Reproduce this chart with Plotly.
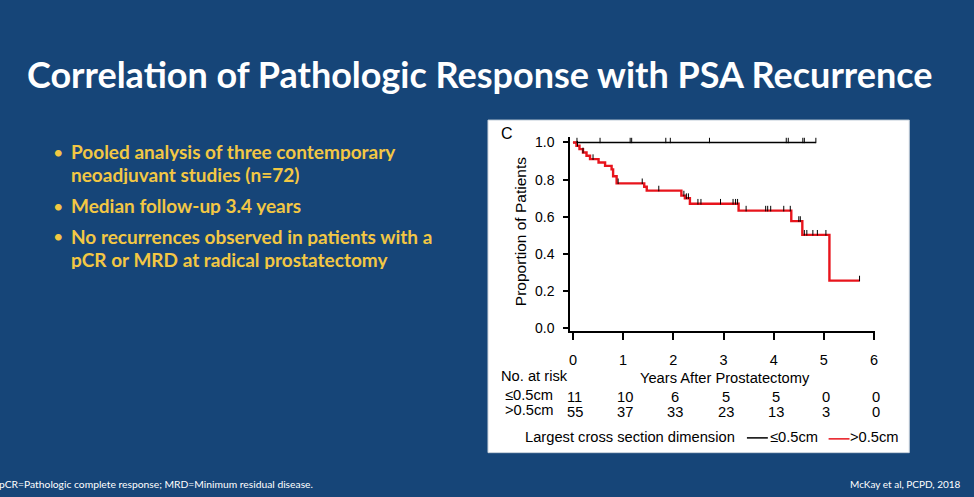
import numpy as np
import plotly.graph_objects as go

# ---------------- data ----------------
title_text = "Correlation of Pathologic Response with PSA Recurrence"
bullets = [
    ["Pooled analysis of three contemporary", "neoadjuvant studies (n=72)"],
    ["Median follow-up 3.4 years"],
    ["No recurrences observed in patients with a", "pCR or MRD at radical prostatectomy"],
]
footnote_left = "pCR=Pathologic complete response; MRD=Minimum residual disease."
footnote_right = "McKay et al, PCPD, 2018"

# >0.5cm group (red): event times and survival after each event
red_event_times = [0.07, 0.13, 0.20, 0.27, 0.34, 0.51, 0.64, 0.77, 0.80, 0.87,
                   1.42, 1.47, 2.16, 2.23, 2.33, 3.30, 4.35, 4.57, 5.11]
red_surv = [0.982, 0.964, 0.946, 0.928, 0.910, 0.892, 0.874, 0.855, 0.818, 0.780,
            0.762, 0.741, 0.714, 0.700, 0.670, 0.633, 0.577, 0.503, 0.257]
red_end = 5.71
red_censor = [0.09, 0.20, 0.40, 0.90, 1.38, 1.71, 2.21, 2.26, 2.30, 2.49, 2.55,
              2.94, 3.19, 3.24, 3.28, 3.45, 3.84, 3.88, 3.94, 4.20, 4.33, 4.50,
              4.53, 4.61, 4.66, 4.78, 4.87, 5.04, 5.71]

# <=0.5cm group (black): no events
black_end = 4.84
black_censor = [0.08, 0.54, 1.14, 1.17, 1.85, 1.94, 2.72, 4.25, 4.29, 4.58, 4.61, 4.84]

years = [0, 1, 2, 3, 4, 5, 6]
risk_small = [11, 10, 6, 5, 5, 0, 0]
risk_large = [55, 37, 33, 23, 13, 3, 0]
y_ticks = [0.0, 0.2, 0.4, 0.6, 0.8, 1.0]

# ---------------- styles ----------------
W, H = 974, 497
BG = "#164578"
YELLOW = "#F2C744"
RED = "#E8141C"
CHART_FONT = "Liberation Sans, Arial, sans-serif"
SLIDE_FONT = "Lato, Open Sans, sans-serif"


def px(x):
    return x / W


def py(y):
    return 1 - y / H


def surv_at(t, times, surv):
    idx = np.searchsorted(np.array(times), t, side="right")
    return 1.0 if idx == 0 else surv[idx - 1]


fig = go.Figure()

# black curve
fig.add_trace(go.Scatter(x=[0, black_end], y=[1.0, 1.0], mode="lines",
                         line=dict(color="black", width=1.5, shape="hv"),
                         hoverinfo="skip", showlegend=False))
# red curve
rx = [0] + red_event_times + [red_end]
ry = [1.0] + red_surv + [red_surv[-1]]
fig.add_trace(go.Scatter(x=rx, y=ry, mode="lines",
                         line=dict(color=RED, width=2.4, shape="hv"),
                         hoverinfo="skip", showlegend=False))
# censor marks
tick_off = 0.011
fig.add_trace(go.Scatter(x=black_censor, y=[1.0 + tick_off] * len(black_censor),
                         mode="markers",
                         marker=dict(symbol="line-ns", size=4,
                                     line=dict(color="black", width=1)),
                         hoverinfo="skip", showlegend=False))
fig.add_trace(go.Scatter(x=red_censor,
                         y=[surv_at(t, red_event_times, red_surv) + tick_off for t in red_censor],
                         mode="markers",
                         marker=dict(symbol="line-ns", size=4,
                                     line=dict(color="black", width=1)),
                         hoverinfo="skip", showlegend=False))

fig.update_layout(
    width=W, height=H,
    margin=dict(l=0, r=0, t=0, b=0),
    paper_bgcolor=BG,
    plot_bgcolor="white",
    showlegend=False,
    xaxis=dict(domain=[px(571.7), px(878)], range=[-0.052, 6.026],
               tickvals=years, ticks="outside", ticklen=7, tickwidth=2,
               tickcolor="black", showline=True, linecolor="black", linewidth=2,
               showgrid=False, zeroline=False, ticklabelstandoff=8,
               tickfont=dict(family=CHART_FONT, size=14.5, color="black")),
    yaxis=dict(domain=[py(333.3), py(136.7)], range=[-0.0138, 1.0265],
               tickvals=y_ticks, tickformat=".1f", ticks="outside", ticklen=5,
               tickwidth=1.5, tickcolor="black", showline=True, linecolor="black",
               linewidth=2, showgrid=False, zeroline=False, ticklabelstandoff=6,
               tickfont=dict(family=CHART_FONT, size=14, color="black")),
)

# white panel
fig.add_shape(type="rect", xref="paper", yref="paper",
              x0=px(489), x1=px(912), y0=py(457), y1=py(119),
              fillcolor="white", line=dict(color="#c9d2dc", width=1), layer="below")

ann = []
ann.append(dict(text=f"<b>{title_text}</b>", x=px(481), y=py(72), xref="paper", yref="paper",
                xanchor="center", yanchor="middle", showarrow=False,
                font=dict(family=SLIDE_FONT, size=36, color="white")))

line_y = [[151, 174], [206], [237, 261]]
for lines, ys in zip(bullets, line_y):
    ann.append(dict(text="•", x=px(51), y=py(ys[0]), xref="paper", yref="paper",
                    xanchor="left", yanchor="middle", showarrow=False,
                    height=18, borderpad=0,
                    font=dict(family=SLIDE_FONT, size=18, color=YELLOW)))
    for txt, yy in zip(lines, ys):
        ann.append(dict(text=f"<b>{txt}</b>", x=px(69), y=py(yy), xref="paper", yref="paper",
                        xanchor="left", yanchor="middle", showarrow=False,
                        height=19, borderpad=0, valign="middle",
                        font=dict(family=SLIDE_FONT, size=19, color=YELLOW)))

ann.append(dict(text=footnote_left, x=px(-4), y=py(489), xref="paper", yref="paper",
                xanchor="left", yanchor="middle", showarrow=False,
                font=dict(family=SLIDE_FONT, size=10.3, color="white")))
ann.append(dict(text=footnote_right, x=px(966), y=py(489), xref="paper", yref="paper",
                xanchor="right", yanchor="middle", showarrow=False,
                font=dict(family=SLIDE_FONT, size=10, color="white")))

cf = dict(family=CHART_FONT, size=14.7, color="black")
ann.append(dict(text="C", x=px(500), y=py(133), xref="paper", yref="paper",
                xanchor="left", yanchor="middle", showarrow=False,
                font=dict(family=CHART_FONT, size=16, color="black")))
ann.append(dict(text="Proportion of Patients", x=px(521), y=py(232), xref="paper", yref="paper",
                xanchor="center", yanchor="middle", showarrow=False, textangle=-90,
                font=dict(family=CHART_FONT, size=15.5, color="black")))
ann.append(dict(text="Years After Prostatectomy", x=px(727), y=py(381), xref="paper", yref="paper",
                xanchor="center", yanchor="middle", showarrow=False, font=cf))
ann.append(dict(text="No. at risk", x=px(500), y=py(379), xref="paper", yref="paper",
                xanchor="left", yanchor="middle", showarrow=False, font=cf))
ann.append(dict(text="≤0.5cm", x=px(504), y=py(398), xref="paper", yref="paper",
                xanchor="left", yanchor="middle", showarrow=False, font=cf))
ann.append(dict(text=">0.5cm", x=px(504), y=py(414), xref="paper", yref="paper",
                xanchor="left", yanchor="middle", showarrow=False, font=cf))
for yr, a, b in zip(years, risk_small, risk_large):
    ann.append(dict(text=str(a), x=yr, y=py(400), xref="x", yref="paper",
                    xanchor="center", yanchor="middle", showarrow=False, xshift=2, font=cf))
    ann.append(dict(text=str(b), x=yr, y=py(416), xref="x", yref="paper",
                    xanchor="center", yanchor="middle", showarrow=False, xshift=2, font=cf))

ann.append(dict(text="Largest cross section dimension", x=px(524), y=py(441), xref="paper",
                yref="paper", xanchor="left", yanchor="middle", showarrow=False, font=cf))
ann.append(dict(text="≤0.5cm", x=px(770), y=py(441), xref="paper",
                yref="paper", xanchor="left", yanchor="middle", showarrow=False, font=cf))
ann.append(dict(text=">0.5cm", x=px(850), y=py(441), xref="paper",
                yref="paper", xanchor="left", yanchor="middle", showarrow=False, font=cf))
fig.add_shape(type="line", xref="paper", yref="paper", x0=px(749), x1=px(770),
              y0=py(442), y1=py(442), line=dict(color="black", width=1.5))
fig.add_shape(type="line", xref="paper", yref="paper", x0=px(831), x1=px(852),
              y0=py(443), y1=py(443), line=dict(color=RED, width=1.5))

fig.update_layout(annotations=ann)
fig.write_html("out.html")
